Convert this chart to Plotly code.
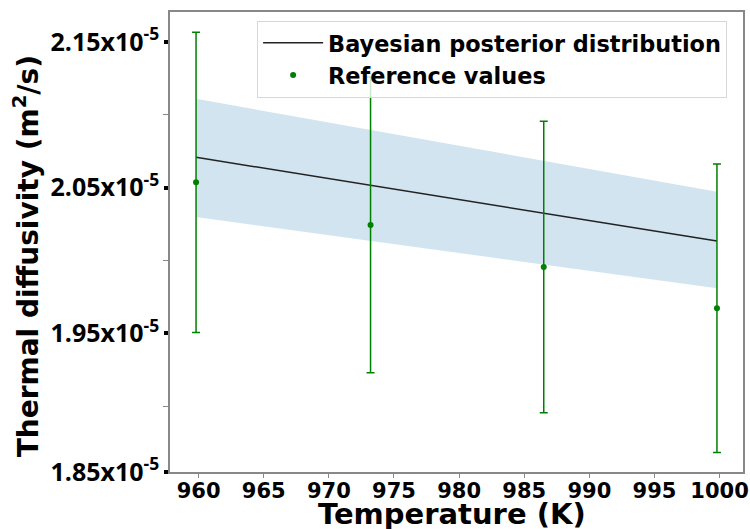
import plotly.graph_objects as go

# ---- data (values in m^2/s) ----
temperatures = [959.8, 973.2, 986.5, 999.8]
reference_values = [2.0536e-5, 2.0243e-5, 1.9955e-5, 1.9671e-5]
reference_errors = [0.103e-5, 0.1014e-5, 0.100e-5, 0.099e-5]
posterior_mean = [2.0708e-5, 2.0515e-5, 2.0324e-5, 2.0133e-5]
posterior_lower = [2.0298e-5, 2.0134e-5, 1.9971e-5, 1.9809e-5]
posterior_upper = [2.1109e-5, 2.0896e-5, 2.0684e-5, 2.0471e-5]

x_ticks = [960, 965, 970, 975, 980, 985, 990, 995, 1000]
y_tick_positions = [1.8549e-5, 1.95e-5, 2.05e-5, 2.15e-5]
y_ticktext = ["1.85x10<sup>-5</sup>", "1.95x10<sup>-5</sup>",
              "2.05x10<sup>-5</sup>", "2.15x10<sup>-5</sup>"]
y_minor = [1.90e-5, 2.00e-5, 2.10e-5]

BOLD = "DejaVu Sans"

fig = go.Figure()

# credible band
fig.add_trace(go.Scatter(x=temperatures, y=posterior_upper, mode="lines",
                         line=dict(width=0), showlegend=False, hoverinfo="skip"))
fig.add_trace(go.Scatter(x=temperatures, y=posterior_lower, mode="lines",
                         line=dict(width=0), fill="tonexty",
                         fillcolor="rgba(31,119,180,0.2)", showlegend=False,
                         hoverinfo="skip"))
# posterior mean line
fig.add_trace(go.Scatter(x=temperatures, y=posterior_mean, mode="lines",
                         line=dict(color="#222222", width=1.5),
                         name="Bayesian posterior distribution"))
# reference values
fig.add_trace(go.Scatter(x=temperatures, y=reference_values, mode="markers",
                         marker=dict(color="green", size=6),
                         error_y=dict(type="data", array=reference_errors,
                                      color="green", thickness=1.5, width=4),
                         name="Reference values"))

fig.update_layout(
    width=750, height=529,
    margin=dict(l=170, r=7, t=12, b=57),
    paper_bgcolor="white", plot_bgcolor="white",
    showlegend=True,
    legend=dict(x=0.152, y=0.981, xanchor="left", yanchor="top",
                traceorder="normal", itemwidth=60,
                bgcolor="rgba(255,255,255,0.8)", bordercolor="#d8d8d8",
                borderwidth=1,
                font=dict(family=BOLD, size=22.4, color="black", weight="bold")),
    xaxis=dict(range=[957.8, 1001.8], tickvals=x_ticks, automargin=False,
               ticks="outside", ticklen=4, tickwidth=1, tickcolor="#888888",
               ticklabelstandoff=-5,
               showline=True, linecolor="#888888", linewidth=1.5, mirror=True,
               showgrid=False, zeroline=False,
               tickfont=dict(family=BOLD, size=21, color="black", weight="bold")),
    yaxis=dict(range=[1.8548e-5, 2.1705e-5], tickvals=y_tick_positions,
               ticktext=y_ticktext, automargin=False,
               ticks="outside", ticklen=4, tickwidth=4, tickcolor="black",
               showline=True, linecolor="#888888", linewidth=1.5, mirror=True,
               showgrid=False, zeroline=False,
               minor=dict(tickmode="array", tickvals=y_minor, ticks="outside",
                          ticklen=5, tickwidth=1, tickcolor="#888888", showgrid=False),
               tickfont=dict(family="Open Sans", size=25, color="black", weight="bold")),
    annotations=[
        dict(text="Temperature (K)", xref="paper", yref="paper", x=0.493, y=-0.05,
             xanchor="center", yanchor="top", showarrow=False,
             font=dict(family=BOLD, size=29, color="black", weight="bold")),
        dict(text="Thermal diffusivity (m<sup>2</sup>/s)", xref="paper", yref="paper",
             x=-0.249, y=0.4696, xanchor="center", yanchor="middle", textangle=-90,
             showarrow=False,
             font=dict(family=BOLD, size=28, color="black", weight="bold")),
    ],
)

fig.write_html("out.html")
